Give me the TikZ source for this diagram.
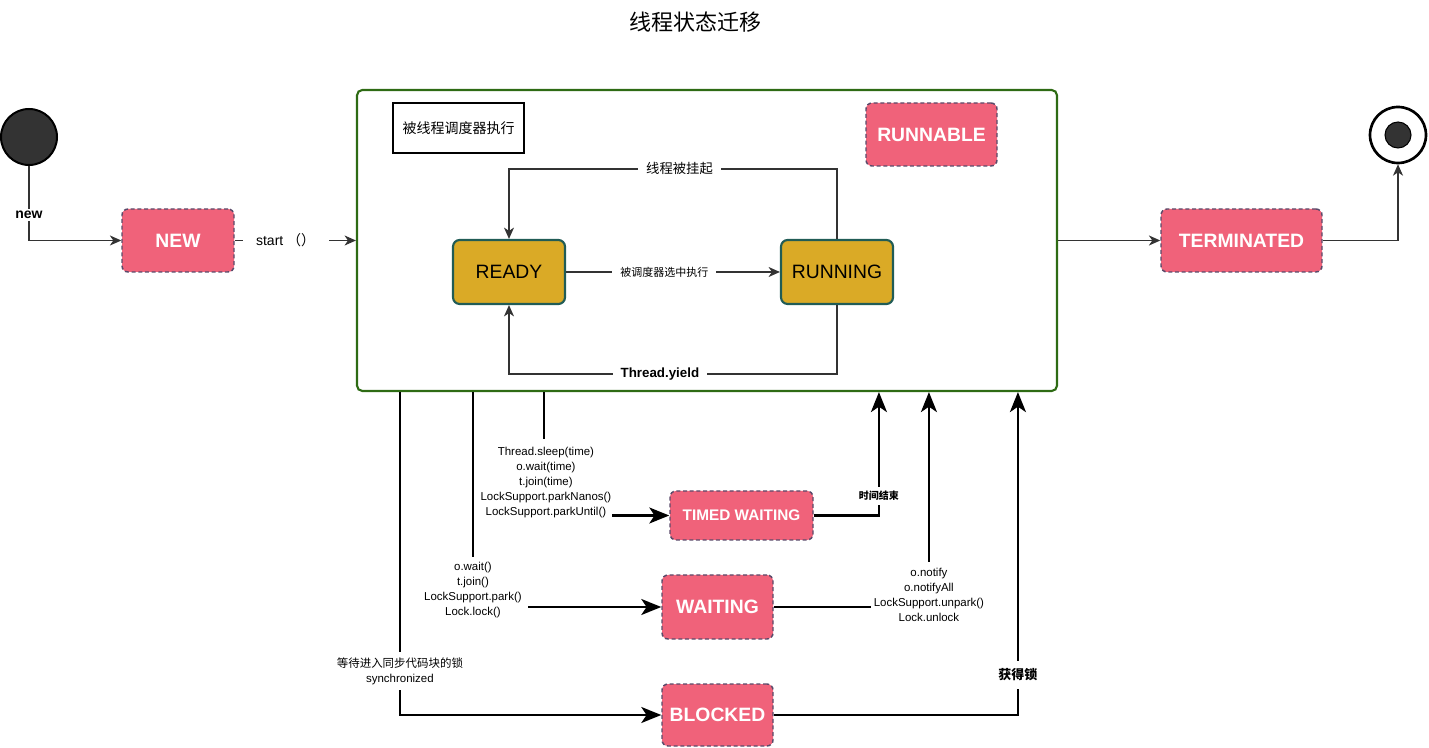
\documentclass[tikz,border=0pt]{standalone}
\usepackage{fontspec}
\setmainfont{Liberation Sans}
\newfontfamily\cjk{Noto Sans CJK SC}
\usetikzlibrary{arrows.meta}
\definecolor{pfill}{HTML}{F0627A}
\definecolor{pborder}{HTML}{5A4A6A}
\definecolor{gold}{HTML}{DAAA26}
\definecolor{tealb}{HTML}{215C56}
\definecolor{cgreen}{HTML}{2E6B14}
\definecolor{lineg}{HTML}{333333}
\newcommand{\fsz}[2]{\fontsize{#1}{#2}\selectfont}
\tikzset{
  pinkbox/.style={draw=pborder, dash pattern=on 3pt off 2pt, line width=1.1pt, fill=pfill,
    rounded corners=4.5pt, text=white, font=\bfseries\fsz{14.5pt}{17pt}, inner sep=0pt},
  goldbox/.style={draw=tealb, line width=1.6pt, fill=gold, rounded corners=5pt,
    font=\fsz{14.5pt}{17pt}, minimum width=84pt, minimum height=48pt, inner sep=0pt},
  thinarr/.style={draw=lineg, line width=0.9pt, -{Stealth[length=8.5pt,width=7.5pt,inset=2.5pt]}},
  heavyarr/.style={draw=black, line width=1.8pt, -{Stealth[length=15pt,width=12pt,inset=4pt]}},
  lbl/.style={fill=white, inner sep=1.5pt, align=center},
  small/.style={font=\fsz{8.6pt}{11.25pt}},
}
\begin{document}
\begin{tikzpicture}[x=0.75pt,y=-0.75pt]
\useasboundingbox (0,0) rectangle (1429,748);
% title
\node[font=\cjk\fsz{16.5pt}{19pt}] (title) at (695,22) {线程状态迁移};
% start / end
\node[circle, draw=black, line width=1.5pt, fill=lineg, minimum size=42pt, inner sep=0pt] (startc) at (29,137) {};
\node[circle, draw=black, line width=2pt, fill=white, minimum size=42pt, inner sep=0pt] (endc) at (1398,135) {};
\node[circle, draw=black, line width=0.8pt, fill=lineg, minimum size=19.5pt, inner sep=0pt] (endin) at (1398,135) {};
% container
\node[draw=cgreen, line width=1.6pt, rounded corners=4pt, minimum width=525pt, minimum height=225.75pt, inner sep=0pt] (runnable) at (707,240.5) {};
\node[draw=black, line width=1.8pt, minimum width=98.25pt, minimum height=37.5pt, inner sep=0pt, font=\cjk\fsz{10.5pt}{12pt}] (sched) at (458.5,128) {被线程调度器执行};
\node[pinkbox, minimum width=98.25pt, minimum height=47.25pt] (rlabel) at (931.5,134.5) {RUNNABLE};
% states
\node[pinkbox, minimum width=84pt, minimum height=47.25pt] (newb) at (178,240.5) {NEW};
\node[pinkbox, minimum width=120.75pt, minimum height=47.25pt] (term) at (1241.5,240.5) {TERMINATED};
\node[goldbox] (ready) at (509,272) {READY};
\node[goldbox] (running) at (837,272) {RUNNING};
\node[pinkbox, minimum width=107.25pt, minimum height=36.75pt, font=\bfseries\fsz{11.5pt}{13pt}] (timed) at (741.5,515.5) {TIMED WAITING};
\node[pinkbox, minimum width=83.25pt, minimum height=48pt] (waiting) at (717.5,607) {WAITING};
\node[pinkbox, minimum width=83.25pt, minimum height=46.5pt] (blocked) at (717.5,715) {BLOCKED};
% top connectors
\draw[thinarr] (startc.south) |- node[pos=0.33, lbl, font=\bfseries\fsz{10.5pt}{12pt}] {new} (newb.west);
\draw[thinarr] (newb.east) -- node[lbl, pos=0.42, font=\fsz{10.5pt}{12pt}, inner xsep=10pt] {start\ {\cjk （）}} (runnable.west);
\draw[thinarr] (running.north) -- ++(0,-70) -| node[pos=0.24, lbl, font=\cjk\fsz{10pt}{12pt}, inner xsep=6pt] {线程被挂起} (ready.north);
\draw[thinarr] (ready) -- node[lbl, pos=0.46, font=\cjk\fsz{8.25pt}{10pt}, inner xsep=6pt] {被调度器选中执行} (running);
\draw[thinarr] (running.south) -- ++(0,69) -| node[pos=0.27, lbl, font=\bfseries\fsz{10pt}{12pt}, inner xsep=6pt] {Thread.yield} (ready.south);
\draw[thinarr] (runnable.east) -- (term.west);
\draw[thinarr] (term.east) -| (endc.south);
% lower connectors
\draw[heavyarr] ([xshift=33pt]runnable.south west) |- node[pos=0.432, lbl, small, inner ysep=4pt] {{\cjk 等待进入同步代码块的锁}\\synchronized} (blocked.west);
\draw[heavyarr] ([xshift=87.75pt]runnable.south west) |- node[pos=0.46, lbl, small, inner ysep=4pt, inner xsep=5pt] {o.wait()\\t.join()\\LockSupport.park()\\Lock.lock()} (waiting.west);
\draw[heavyarr] ([xshift=141pt]runnable.south west) |- node[pos=0.365, lbl, small, inner ysep=6pt, inner xsep=0.5pt, xshift=1.5pt] {Thread.sleep(time)\\o.wait(time)\\t.join(time)\\LockSupport.parkNanos()\\LockSupport.parkUntil()} (timed.west);
\draw[heavyarr] (timed.east) -| node[pos=0.58, lbl, font=\cjk\bfseries\fsz{7.5pt}{9pt}, inner ysep=3pt] {时间结束} ([xshift=392.25pt]runnable.south west);
\draw[heavyarr] (waiting.east) -| node[pos=0.528, lbl, small, inner ysep=5pt, inner xsep=2pt] {o.notify\\o.notifyAll\\LockSupport.unpark()\\Lock.unlock} ([xshift=429.75pt]runnable.south west);
\draw[heavyarr] (blocked.east) -| node[pos=0.562, lbl, font=\cjk\bfseries\fsz{9.75pt}{12pt}, inner ysep=6pt] {获得锁} ([xshift=496.5pt]runnable.south west);
\end{tikzpicture}
\end{document}
